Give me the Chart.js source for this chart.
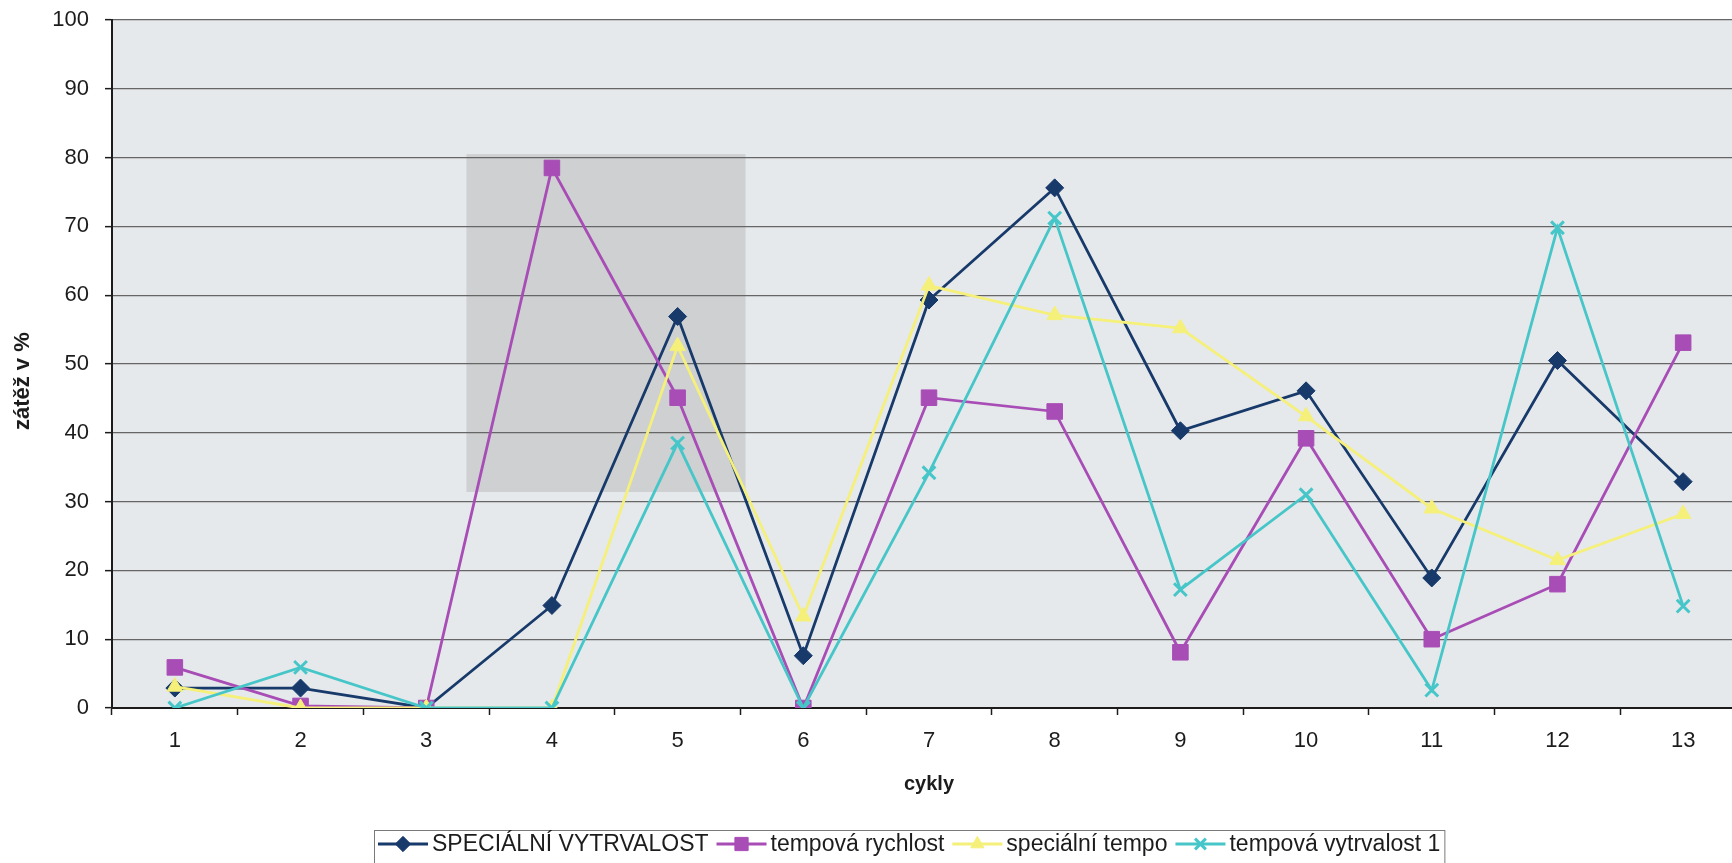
<!DOCTYPE html>
<html>
<head>
<meta charset="utf-8">
<script src="https://cdn.jsdelivr.net/npm/chart.js@4.4.1/dist/chart.umd.min.js"></script>
<style>
  html, body { margin: 0; padding: 0; background: #fff; overflow: hidden; }
  #wrap { width: 1758px; height: 863px; }
</style>
</head>
<body>
<div id="wrap"><canvas id="zatez"></canvas></div>
<script>
// ── data ──
const cykly = ['1', '2', '3', '4', '5', '6', '7', '8', '9', '10', '11', '12', '13'];
const specialniVytrvalost = [2.9, 2.9, 0, 14.9, 56.9, 7.6, 59.3, 75.6, 40.3, 46.1, 18.9, 50.5, 32.9];
const tempovaRychlost     = [5.9, 0.3, 0, 78.5, 45.1, 0, 45.1, 43.1, 8.1, 39.2, 10.0, 18.0, 53.1];
const specialniTempo      = [3.1, 0, 0, 0, 52.6, 13.3, 61.4, 57.1, 55.2, 42.4, 29.0, 21.5, 28.2];
const tempovaVytrvalost1  = [0, 5.9, 0, 0, 38.5, 0, 34.2, 71.2, 17.2, 31.0, 2.6, 69.8, 14.8];
const yTicks = [0, 10, 20, 30, 40, 50, 60, 70, 80, 90, 100];
const yTitle = 'zátěž v %';

const FONT = "'Liberation Sans', Arial, sans-serif";
const INK = '#1c1c1c';

// světlé pozadí plochy grafu + tmavší skvrna ze skenu
const plotBg = {
  id: 'plotBg',
  beforeDraw(chart) {
    const { ctx, chartArea: a, scales } = chart;
    ctx.save();
    ctx.fillStyle = '#e6e9eb';
    ctx.fillRect(a.left, a.top, a.right - a.left, a.bottom - a.top);
    // skvrna (jen šedý obdélník)
    const x0 = scales.x.getPixelForValue(2.32), x1 = scales.x.getPixelForValue(4.54);
    const y0 = scales.y.getPixelForValue(80.5), y1 = scales.y.getPixelForValue(31.4);
    ctx.fillStyle = 'rgba(110,110,110,0.2)';
    ctx.fillRect(x0, y0, x1 - x0, y1 - y0);
    ctx.restore();
  }
};

// popisek osy y - trochu níž než střed osy, jako v originále
const yAxisTitle = {
  id: 'yAxisTitle',
  afterDraw(chart) {
    const { ctx, scales } = chart;
    ctx.save();
    ctx.translate(23, scales.y.getPixelForValue(47.5));
    ctx.rotate(-Math.PI / 2);
    ctx.font = 'bold 22px ' + FONT;
    ctx.fillStyle = INK;
    ctx.textAlign = 'center';
    ctx.textBaseline = 'middle';
    ctx.fillText(yTitle, 0, 0);
    ctx.restore();
  }
};

// legenda ve stylu Excelu: čára + značka + text, v rámečku
const excelLegend = {
  id: 'excelLegend',
  afterDraw(chart) {
    const { ctx } = chart;
    const sets = chart.data.datasets;
    const font = '23px ' + FONT;
    ctx.save();
    ctx.font = font;
    const lineW = 50, gapTxt = 4, gapItem = 8, padX = 4;
    const widths = sets.map(d => ctx.measureText(d.label).width);
    const total = widths.reduce((s, w) => s + lineW + gapTxt + w, 0) + gapItem * (sets.length - 1) + padX * 2;
    const top = 830, cy = 844;
    let x = 374;
    ctx.strokeStyle = '#7a7a7a';
    ctx.lineWidth = 1;
    ctx.strokeRect(x + 0.5, top + 0.5, total, 40);
    x += padX;
    sets.forEach((d, i) => {
      ctx.strokeStyle = d.borderColor;
      ctx.lineWidth = 2.8;
      ctx.beginPath();
      ctx.moveTo(x, cy); ctx.lineTo(x + lineW, cy);
      ctx.stroke();
      ctx.fillStyle = d.pointBackgroundColor;
      ctx.strokeStyle = d.pointBorderColor;
      ctx.lineWidth = d.pointBorderWidth;
      Chart.helpers.drawPoint(ctx, {
        pointStyle: d.pointStyle, radius: d.pointRadius * 0.85, borderWidth: d.pointBorderWidth, rotation: 0
      }, x + lineW / 2, cy);
      ctx.font = font;
      ctx.fillStyle = INK;
      ctx.textBaseline = 'middle';
      ctx.fillText(d.label, x + lineW + gapTxt, cy + 1);
      x += lineW + gapTxt + widths[i] + gapItem;
    });
    ctx.restore();
  }
};

function series(label, data, color, style, radius, order) {
  return {
    label, data, order,
    borderColor: color, backgroundColor: color,
    borderWidth: 2.8,
    pointStyle: style, pointRadius: radius, pointHoverRadius: radius,
    pointBackgroundColor: color, pointBorderColor: color,
    pointBorderWidth: style === 'crossRot' ? 3 : 1,
    tension: 0, fill: false,
  };
}

new Chart(document.getElementById('zatez').getContext('2d'), {
  type: 'line',
  data: {
    labels: cykly,
    datasets: [
      series('SPECIÁLNÍ VYTRVALOST', specialniVytrvalost, '#173a6b', 'rectRot', 9, 4),
      series('tempová rychlost', tempovaRychlost, '#a84db6', 'rect', 11, 3),
      series('speciální tempo', specialniTempo, '#f5f07a', 'triangle', 9, 2),
      series('tempová vytrvalost 1', tempovaVytrvalost1, '#46c6c8', 'crossRot', 9, 1),
    ],
  },
  options: {
    responsive: true,
    maintainAspectRatio: false,
    animation: false,
    layout: { padding: { top: 20, right: 5, bottom: 55, left: 0 } },
    plugins: {
      legend: { display: false },
      tooltip: { enabled: false },
    },
    scales: {
      x: {
        offset: true,
        grid: { display: true, drawOnChartArea: false, offset: true, tickLength: 7, tickColor: INK, tickWidth: 1.5 },
        border: { color: INK, width: 2 },
        ticks: { color: INK, font: { family: FONT, size: 22 }, padding: 13, maxRotation: 0 },
        title: { display: true, text: 'cykly', color: INK, font: { family: FONT, size: 20, weight: 'bold' }, padding: { top: 0, bottom: 12 } },
        afterFit: s => { s.height = 100; s.paddingLeft = 0; s.paddingRight = 0; },
      },
      y: {
        min: 0, max: 100,
        afterBuildTicks: s => { s.ticks = yTicks.map(v => ({ value: v })); },
        grid: { color: '#666', lineWidth: 1.3, tickLength: 7, tickColor: INK, tickWidth: 1.5 },
        border: { color: INK, width: 2 },
        ticks: { color: INK, font: { family: FONT, size: 22 }, padding: 16 },
        afterFit: s => { s.width = 112; s.paddingTop = 0; s.paddingBottom = 0; },
      },
    },
  },
  plugins: [plotBg, yAxisTitle, excelLegend],
});
</script>
</body>
</html>
